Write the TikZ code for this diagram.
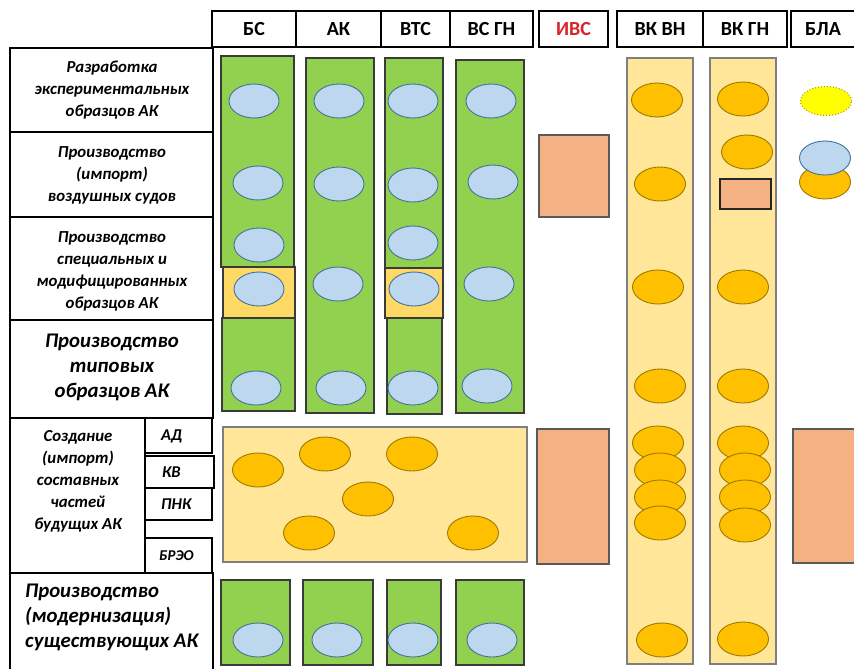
\documentclass[tikz,border=0pt]{standalone}
\usepackage{fontspec}
\setmainfont{Carlito}
\usetikzlibrary{shapes.geometric,fit}
\definecolor{grn}{HTML}{92D050}
\definecolor{grnedge}{HTML}{3A3A3A}
\definecolor{bluefill}{HTML}{BDD7EE}
\definecolor{blueedge}{HTML}{41719C}
\definecolor{orgfill}{HTML}{FFC000}
\definecolor{orgedge}{HTML}{9C7A00}
\definecolor{palefill}{HTML}{FFE699}
\definecolor{paleedge}{HTML}{7F7F7F}
\definecolor{stripe}{HTML}{FFD966}
\definecolor{salmon}{HTML}{F4B183}
\definecolor{salmonedge}{HTML}{595959}
\definecolor{ivsred}{HTML}{D7262B}
\definecolor{blayel}{HTML}{FFFF00}
\definecolor{blaedge}{HTML}{B89600}
\begin{document}
\begin{tikzpicture}[x=1pt,y=-1pt,
  rowbox/.style={draw=black,line width=2.6pt,fill=white,inner sep=0pt},
  headbox/.style={draw=black,line width=2.2pt,fill=white,inner sep=0pt,
    font=\bfseries\fontsize{20}{22}\selectfont},
  smalltxt/.style={align=center,inner sep=0pt,font=\bfseries\itshape\fontsize{16.8}{22}\selectfont},
  bigtxt/.style={align=center,inner sep=0pt,font=\bfseries\itshape\fontsize{20.8}{25}\selectfont},
  subtxt/.style={anchor=west,inner sep=0pt,font=\bfseries\itshape\fontsize{16.5}{18}\selectfont},
  gbar/.style={draw=grnedge,fill=grn,line width=1.2pt,inner sep=0pt},
  sbar/.style={draw=grnedge,fill=stripe,line width=1.2pt,inner sep=0pt},
  pbar/.style={draw=paleedge,fill=palefill,line width=1.3pt,inner sep=0pt},
  sal/.style={draw=salmonedge,fill=salmon,line width=1.3pt,inner sep=0pt},
  bov/.style={ellipse,draw=blueedge,fill=bluefill,line width=0.9pt,inner sep=0pt,
    minimum width=50pt,minimum height=34pt},
  oov/.style={ellipse,draw=orgedge,fill=orgfill,line width=0.9pt,inner sep=0pt,
    minimum width=51pt,minimum height=34pt}
]
\clip (0,0) rectangle (854,669);
\fill[white] (0,0) rectangle (854,669);

% ---- column headers
\node[headbox,fit={(212,11) (296,47)}] (hBS) {};
\node[headbox,fit={(296,11) (381,47)}] (hAK) {};
\node[headbox,fit={(381,11) (450,47)}] (hVTS) {};
\node[headbox,fit={(450,11) (533,47)}] (hVSGN) {};
\node[headbox,fit={(539,11) (608,47)}] (hIVS) {};
\node[headbox,fit={(617,11) (703,47)}] (hVKVN) {};
\node[headbox,fit={(703,11) (787,47)}] (hVKGN) {};
\node[headbox,fit={(791,11) (870,47)}] (hBLA) {};
\node[headbox,draw=none,fill=none] (tBS) at (hBS.center) {БС};
\node[headbox,draw=none,fill=none] (tAK) at (hAK.center) {АК};
\node[headbox,draw=none,fill=none] (tVTS) at (hVTS.center) {ВТС};
\node[headbox,draw=none,fill=none] (tVSGN) at (hVSGN.center) {ВС ГН};
\node[headbox,draw=none,fill=none,text=ivsred] (tIVS) at (hIVS.center) {ИВС};
\node[headbox,draw=none,fill=none] (tVKVN) at (hVKVN.center) {ВК ВН};
\node[headbox,draw=none,fill=none] (tVKGN) at (hVKGN.center) {ВК ГН};
\node[headbox,draw=none,fill=none] (tBLA) at (823,29) {БЛА};

% ---- row labels
\node[rowbox,fit={(10,48) (213,132)}] (r1) {};
\node[smalltxt] (t1) at (112,90) {Разработка\\экспериментальных\\образцов АК};
\node[rowbox,fit={(10,132) (213,217)}] (r2) {};
\node[smalltxt] (t2) at (112,175) {Производство\\(импорт)\\воздушных судов};
\node[rowbox,fit={(10,217) (213,320)}] (r3) {};
\node[smalltxt] (t3) at (112,271) {Производство\\специальных и\\модифицированных\\образцов АК};
\node[rowbox,fit={(10,320) (213,418)}] (r4) {};
\node[bigtxt] (t4) at (112,367) {Производство\\типовых\\образцов АК};
\node[rowbox,fit={(10,418) (145,573)}] (r5) {};
\node[smalltxt] (t5) at (78,481) {Создание\\(импорт)\\составных\\частей\\будущих АК};
\node[rowbox,fit={(145,418) (212,453)}] (sAD) {};
\node[rowbox,fit={(145,456) (214,488)}] (sKV) {};
\node[rowbox,fit={(145,488) (212,520)}] (sPNK) {};
\node[rowbox,fit={(145,538) (212,573)}] (sBREO) {};
\node[subtxt] (tAD) at (161,436) {АД};
\node[subtxt] (tKV) at (162,472) {КВ};
\node[subtxt] (tPNK) at (161,504) {ПНК};
\node[subtxt,font=\bfseries\itshape\fontsize{15}{17}\selectfont] (tBREO) at (159,556) {БРЭО};
\node[rowbox,fit={(10,573) (213,690)}] (r6) {};
\node[bigtxt,align=left,anchor=west] (t6) at (25,617) {Производство\\(модернизация)\\существующих АК};

% ---- БС column
\node[gbar,fit={(221,56) (294,267)}] (bsA) {};
\node[sbar,fit={(223,267) (295,318)}] (bsB) {};
\node[gbar,fit={(222,318) (295,411)}] (bsC) {};
\node[bov] (bs1) at (254,101) {};
\node[bov] (bs2) at (258,183) {};
\node[bov] (bs3) at (259,245) {};
\node[bov] (bs4) at (259,289) {};
\node[bov] (bs5) at (256,388) {};

% ---- АК column
\node[gbar,fit={(306,58) (374,413)}] (akA) {};
\node[bov] (ak1) at (339,101) {};
\node[bov] (ak2) at (339,184) {};
\node[bov] (ak3) at (338,284) {};
\node[bov] (ak4) at (341,388) {};

% ---- ВТС column
\node[gbar,fit={(385,58) (443,268)}] (vtA) {};
\node[sbar,fit={(385,268) (443,318)}] (vtB) {};
\node[gbar,fit={(387,318) (442,414)}] (vtC) {};
\node[bov] (vt1) at (413,101) {};
\node[bov] (vt2) at (413,185) {};
\node[bov] (vt3) at (413,243) {};
\node[bov] (vt4) at (414,289) {};
\node[bov] (vt5) at (413,388) {};

% ---- ВС ГН column
\node[gbar,fit={(456,60) (524,413)}] (vgA) {};
\node[bov] (vg1) at (491,101) {};
\node[bov] (vg2) at (493,182) {};
\node[bov] (vg3) at (489,284) {};
\node[bov] (vg4) at (487,386) {};

% ---- ИВС
\node[sal,fit={(539,135) (609,217)}] (ivs1) {};
\node[sal,fit={(537,429) (609,564)}] (ivs2) {};

% ---- ВК ВН column
\node[pbar,fit={(627,58) (693,664)}] (vnA) {};
\node[oov] (vn1) at (657,100) {};
\node[oov] (vn2) at (660,184) {};
\node[oov] (vn3) at (658,287) {};
\node[oov] (vn4) at (660,386) {};
\node[oov] (vn5) at (658,443) {};
\node[oov] (vn6) at (660,470) {};
\node[oov] (vn7) at (660,497) {};
\node[oov] (vn8) at (660,523) {};
\node[oov] (vn9) at (662,640) {};

% ---- ВК ГН column
\node[pbar,fit={(710,58) (776,664)}] (gnA) {};
\node[oov] (gn1) at (743,99) {};
\node[oov] (gn2) at (747,152) {};
\node[sal,draw=black!85,line width=1.8pt,fit={(720,179) (771,209)}] (gnR) {};
\node[oov] (gn3) at (743,287) {};
\node[oov] (gn4) at (743,386) {};
\node[oov] (gn5) at (743,443) {};
\node[oov] (gn6) at (745,470) {};
\node[oov] (gn7) at (745,497) {};
\node[oov] (gn8) at (745,525) {};
\node[oov] (gn9) at (743,639) {};

% ---- БЛА
\node[ellipse,draw=blaedge,fill=blayel,dotted,line width=1pt,inner sep=0pt,
  minimum width=51pt,minimum height=29pt] (bl1) at (826,101) {};
\node[oov] (bl2) at (825,182) {};
\node[bov,minimum width=51pt] (bl3) at (825,158) {};
\node[sal,fit={(793,429) (870,563)}] (bl4) {};

% ---- components block
\node[pbar,fit={(223,427) (527,562)}] (comp) {};
\node[oov] (c1) at (258,470) {};
\node[oov] (c2) at (325,454) {};
\node[oov] (c3) at (412,454) {};
\node[oov] (c4) at (368,499) {};
\node[oov] (c5) at (309,533) {};
\node[oov] (c6) at (473,533) {};

% ---- modernisation row
\node[gbar,fit={(221,580) (290,665)}] (m1) {};
\node[gbar,fit={(303,580) (373,665)}] (m2) {};
\node[gbar,fit={(387,580) (441,665)}] (m3) {};
\node[gbar,fit={(456,580) (524,665)}] (m4) {};
\node[bov] (mb1) at (258,640) {};
\node[bov] (mb2) at (337,640) {};
\node[bov] (mb3) at (413,640) {};
\node[bov] (mb4) at (492,640) {};
\end{tikzpicture}
\end{document}
